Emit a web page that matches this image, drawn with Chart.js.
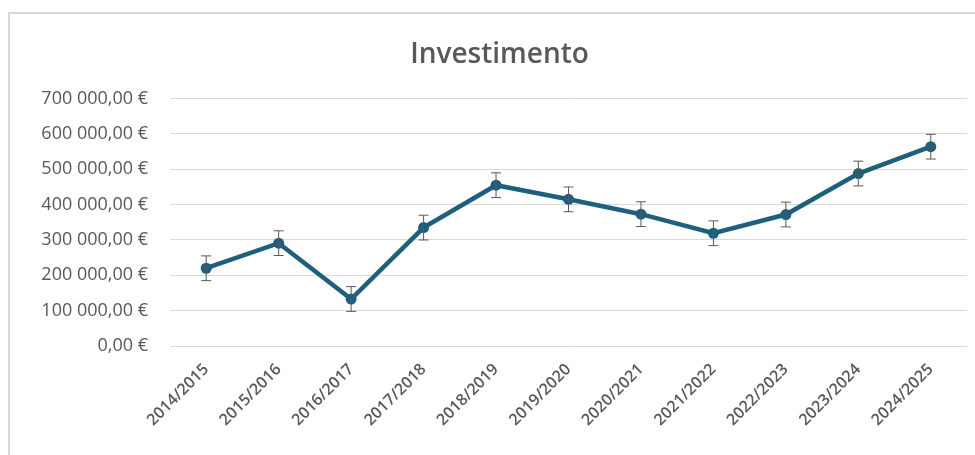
<!DOCTYPE html>
<html>
<head>
<meta charset="utf-8">
<script src="https://cdn.jsdelivr.net/npm/chart.js@4"></script>
<style>
  body { margin: 0; background: #fff; }
  #wrap { position: relative; width: 975px; height: 455px; }
  #frame { position: absolute; left: 8px; top: 12px; right: 0; bottom: 0; border-top: 2px solid #d9d9d9; border-left: 2px solid #d9d9d9; }
  canvas { position: absolute; left: 0; top: 0; }
</style>
</head>
<body>
<div id="wrap">
  <div id="frame"></div>
  <canvas id="c" width="975" height="455"></canvas>
</div>
<script>
// Valori
let anni = ["2014/2015", "2015/2016", "2016/2017", "2017/2018", "2018/2019", "2019/2020",
            "2020/2021", "2021/2022", "2022/2023", "2023/2024", "2024/2025"]
let investimento = [220000, 291000, 133000, 335000, 455000, 415000, 373000, 319000, 372000, 488000, 564000]
let errore = [35000, 35000, 35000, 35000, 35000, 35000, 35000, 35000, 35000, 35000, 35000]

let grigio = "#595959"
let blu = "#1e5f7d"

// euro con spazio per le migliaia
function euro(v) {
    let s = Math.round(v).toString().replace(/\B(?=(\d{3})+(?!\d))/g, " ")
    return s + ",00 €"
}

// barre di errore
let erroriPlugin = {
    id: "errori",
    afterDatasetsDraw(chart) {
        let ctx = chart.ctx
        let x = chart.scales.x
        let y = chart.scales.y
        ctx.save()
        ctx.strokeStyle = "#595959"
        ctx.lineWidth = 1
        for (let i = 0; i < investimento.length; i++) {
            let px = x.getPixelForValue(i)
            let top = y.getPixelForValue(investimento[i] + errore[i])
            let bot = y.getPixelForValue(investimento[i] - errore[i])
            ctx.beginPath()
            ctx.moveTo(px, top); ctx.lineTo(px, bot)
            ctx.moveTo(px - 5, top); ctx.lineTo(px + 5, top)
            ctx.moveTo(px - 5, bot); ctx.lineTo(px + 5, bot)
            ctx.stroke()
        }
        ctx.restore()
    }
}

let grafico = new Chart(document.getElementById("c"), {
    type: "line",
    data: {
        labels: anni,
        datasets: [{
            label: "Investimento",
            data: investimento,
            borderColor: blu,
            backgroundColor: blu,
            borderWidth: 4.5,
            pointRadius: 5.5,
            pointBorderWidth: 0,
            tension: 0
        }]
    },
    options: {
        responsive: false,
        animation: false,
        layout: { padding: { left: 32, right: 8, top: 0, bottom: 0 } },
        plugins: {
            legend: { display: false },
            tooltip: { enabled: false },
            title: {
                display: true,
                text: "Investimento",
                color: grigio,
                font: { family: "Open Sans", size: 28, weight: "600" },
                padding: { top: 38, bottom: 27 }
            }
        },
        scales: {
            x: {
                offset: true,
                grid: { display: false },
                border: { display: false },
                ticks: {
                    color: grigio,
                    font: { family: "Open Sans", size: 16, weight: "600" },
                    minRotation: 45,
                    maxRotation: 45,
                    padding: 6
                },
                afterFit(scale) { scale.height = 109 }
            },
            y: {
                min: 0,
                max: 700000,
                grid: { color: "#d9d9d9", lineWidth: 1, drawTicks: false },
                border: { display: false },
                ticks: {
                    stepSize: 100000,
                    color: grigio,
                    font: { family: "Open Sans", size: 18, weight: "500" },
                    padding: 22,
                    callback: (v) => euro(v)
                },
                afterFit(scale) { scale.width = 138 }
            }
        }
    },
    plugins: [erroriPlugin]
})
</script>
</body>
</html>
